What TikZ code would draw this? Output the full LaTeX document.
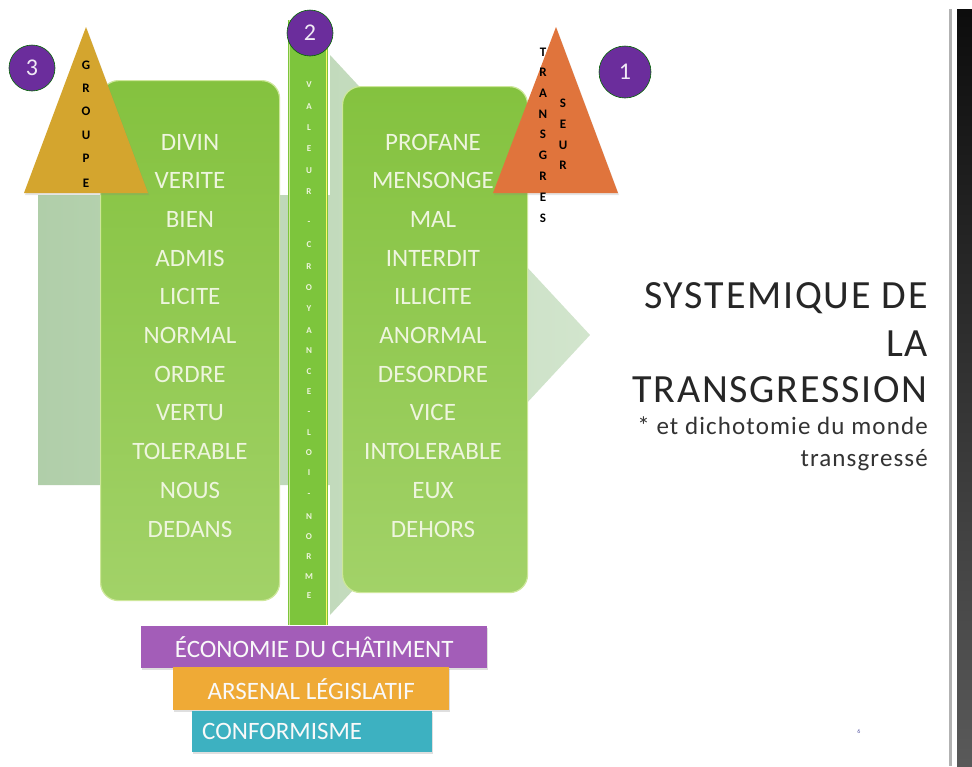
\documentclass[tikz,border=0pt]{standalone}
\usepackage{fontspec}
\setmainfont{Carlito}
\newfontfamily\spacedfont[LetterSpace=4.5]{Carlito}
\usetikzlibrary{shadows}
\definecolor{bgL}{HTML}{B0CEA9}
\definecolor{bgR}{HTML}{D2E5CD}
\definecolor{gTop}{HTML}{84C23F}
\definecolor{gBot}{HTML}{A2D268}
\definecolor{gEdge}{HTML}{CDE79A}
\definecolor{wordc}{HTML}{EEF5DE}
\definecolor{gold}{HTML}{D4A52E}
\definecolor{orng}{HTML}{E0743C}
\definecolor{purp}{HTML}{6B2D9C}
\definecolor{purpbar}{HTML}{A35DB8}
\definecolor{orbar}{HTML}{EFAA36}
\definecolor{teal}{HTML}{3DB1C1}
\tikzset{
  greenbox/.style={rounded corners=18pt, top color=gTop, bottom color=gBot, draw=gEdge, line width=1.2pt, inner sep=0pt, anchor=north west},
  word/.style={text=wordc, font=\fontsize{25}{25}\selectfont, anchor=base, inner sep=0pt},
  barletter/.style={text=wordc, font=\bfseries\fontsize{9}{9}\selectfont, inner sep=0pt},
  triletter/.style={text=black, font=\bfseries\fontsize{13}{13}\selectfont, inner sep=0pt},
  numdisc/.style={circle, fill=purp, draw=green!40!black, line width=0.6pt, text=white!90!purp, font=\fontsize{24}{24}\selectfont, inner sep=0pt},
  basebar/.style={anchor=north west, inner sep=0pt, drop shadow={opacity=0.25, shadow xshift=1pt, shadow yshift=-2pt}},
  bartext/.style={text=white!95!gray, font=\fontsize{25}{25}\selectfont, inner sep=0pt},
  title/.style={text=black!85, font=\spacedfont\fontsize{40}{40}\selectfont, anchor=base east, inner sep=0pt},
  subtitle/.style={text=black!80, font=\spacedfont\fontsize{25}{25}\selectfont, anchor=base east, inner sep=0pt}
}
\begin{document}
\begin{tikzpicture}[x=1pt,y=-1pt]
\useasboundingbox (0,0) rectangle (972,766);
\fill[white] (0,0) rectangle (972,766);

% background arrow
\path[left color=bgL, right color=bgR] (38,195) -- (330,195) -- (330,55) -- (590,335) -- (330,615) -- (330,485) -- (38,485) -- cycle;

% green boxes
\node[greenbox, minimum width=179pt, minimum height=520pt] (L) at (100,80) {};
\node[greenbox, minimum width=185pt, minimum height=506pt] (R) at (342,86) {};

% central bar
\node[anchor=north west, minimum width=40pt, minimum height=605pt, inner sep=0pt, fill=gTop!95!green] (bar) at (288,20) {};
\draw[yellow!60!white, line width=1.2pt] ([xshift=-2pt]bar.north east) -- ([xshift=-2pt]bar.south east);
\draw[gEdge, line width=0.8pt] ([xshift=1pt]bar.north west) -- ([xshift=1pt]bar.south west);

% words
\foreach \w [count=\i from 0] in {DIVIN,VERITE,BIEN,ADMIS,LICITE,NORMAL,ORDRE,VERTU,TOLERABLE,NOUS,DEDANS}
  \node[word] (l\i) at (190,{150+38.7*\i}) {\w};
\foreach \w [count=\i from 0] in {PROFANE,MENSONGE,MAL,INTERDIT,ILLICITE,ANORMAL,DESORDRE,VICE,INTOLERABLE,EUX,DEHORS}
  \node[word] (r\i) at (433,{150+38.7*\i}) {\w};

% bar letters
\foreach \c/\yy [count=\i] in {V/85,A/107,L/128,E/149,U/171,R/192,-/223,C/245,R/267,O/288,Y/309,A/331,N/351,C/372,E/392,-/413,L/433,O/453,I/473,-/495,N/517,O/537,R/557,M/577,E/596}
  \node[barletter] (b\i) at (309,\yy) {\c};

% triangles
\path[fill=gold, drop shadow={opacity=0.2, shadow xshift=1pt, shadow yshift=-2pt}] (24,193) -- (148,193) -- (86,27) -- cycle;
\path[fill=orng, drop shadow={opacity=0.2, shadow xshift=1pt, shadow yshift=-2pt}] (493,193) -- (618,193) -- (556,27) -- cycle;
\foreach \c/\yy [count=\i] in {G/65,R/88,O/111,U/135,P/158,E/183}
  \node[triletter] (g\i) at (86,\yy) {\c};
\foreach \c/\yy [count=\i] in {T/52,R/72,A/93,N/114,S/134,G/155,R/176,E/197,S/218}
  \node[triletter] (t\i) at (543,\yy) {\c};
\foreach \c/\yy [count=\i] in {S/103,E/124,U/145,R/165}
  \node[triletter] (s\i) at (563,\yy) {\c};

% number discs
\node[numdisc, minimum size=46pt] (n3) at (32,68) {3};
\node[numdisc, minimum size=46pt] (n2) at (310,33) {2};
\node[numdisc, minimum size=52pt] (n1) at (625,72) {1};

% base bars
\node[basebar, fill=purpbar, minimum width=346pt, minimum height=42pt] (p1) at (141,626) {};
\node[bartext] (p1t) at (p1.center) {ÉCONOMIE DU CHÂTIMENT};
\node[basebar, fill=orbar, minimum width=276pt, minimum height=43pt] (p2) at (173,667) {};
\node[bartext] (p2t) at (p2.center) {ARSENAL LÉGISLATIF};
\node[basebar, fill=teal, minimum width=240pt, minimum height=41pt] (p3) at (192,711) {};
\node[bartext, anchor=west] (p3t) at (202,731) {CONFORMISME};

% title
\node[title] (t1) at (928,308) {SYSTEMIQUE DE};
\node[title] (t2) at (928,356) {LA};
\node[title] (t3) at (928,402) {TRANSGRESSION};
\node[subtitle] (st1) at (928,434) {* et dichotomie du monde};
\node[subtitle] (st2) at (928,466) {transgressé};

% page number
\node[text=gray!70!blue, font=\fontsize{6}{6}\selectfont, inner sep=0pt] (pg) at (859,731) {6};

% right edge
\fill[gray!60] (949,9) rectangle (951.5,766);
\shade[top color=black!95, bottom color=black!65] (957,9) rectangle (972,766);
\end{tikzpicture}
\end{document}
